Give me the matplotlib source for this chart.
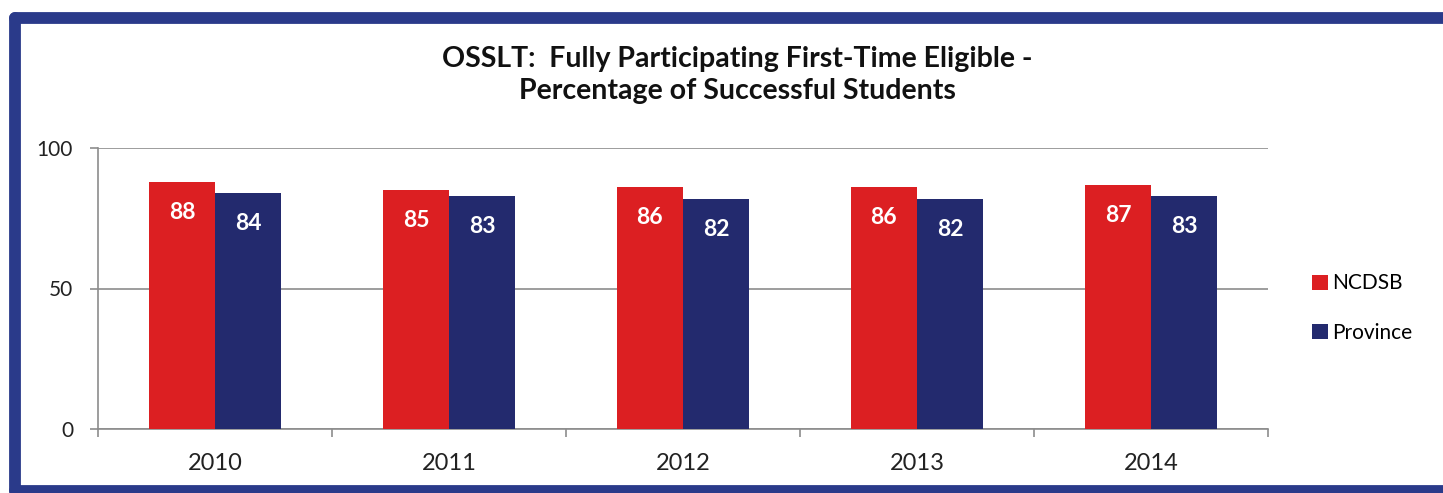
import matplotlib
matplotlib.use("Agg")
import matplotlib.pyplot as plt
from matplotlib.patches import Patch
from matplotlib.lines import Line2D
import numpy as np

years = ["2010", "2011", "2012", "2013", "2014"]
ncdsb = [88, 85, 86, 86, 87]
province = [84, 83, 82, 82, 83]
series_names = ["NCDSB", "Province"]
yticks = [0, 50, 100]
title_lines = ["OSSLT:  Fully Participating First-Time Eligible -",
               "Percentage of Successful Students"]

RED = "#DC1F22"
BLUE = "#232A6E"
FRAME = "#2A3A8A"
GRID = "#8C8C8C"

plt.rcParams['font.family'] = ['Lato', 'DejaVu Sans']

W, H = 1443, 493
fig = plt.figure(figsize=(W / 100, H / 100), dpi=100)
fig.patch.set_facecolor("white")

ax = fig.add_axes([98 / W, 1 - 429 / H, (1268 - 98) / W, (429 - 148) / H])
x = np.arange(len(years))
bw = 0.283
b1 = ax.bar(x - bw / 2, ncdsb, bw, color=RED, zorder=3)
b2 = ax.bar(x + bw / 2, province, bw, color=BLUE, zorder=3)

for bars, vals in ((b1, ncdsb), (b2, province)):
    for rect, v in zip(bars, vals):
        ax.annotate(str(v), (rect.get_x() + rect.get_width() / 2, v),
                    xytext=(0, -22), textcoords="offset points",
                    ha="center", va="center", color="white",
                    fontsize=16.5, fontweight="bold", zorder=4)

ax.set_xlim(-0.5, len(years) - 0.5)
ax.set_ylim(0, 100)
ax.set_yticks(yticks)
ax.set_yticklabels([str(t) for t in yticks], fontsize=15, color="#222222")
ax.set_xticks(x)
ax.set_xticklabels(years, fontsize=17, color="#222222")
ax.set_xticks(np.arange(-0.5, len(years)), minor=True)
ax.tick_params(axis="x", which="major", length=0, pad=17)
ax.tick_params(axis="x", which="minor", length=6, color=GRID, width=1.2)
ax.tick_params(axis="y", length=6, color=GRID, width=1.2, pad=12)
ax.yaxis.grid(True, color=GRID, linewidth=1.2, zorder=0)
ax.set_axisbelow(True)
for s in ("top", "right"):
    ax.spines[s].set_visible(False)
for s in ("left", "bottom"):
    ax.spines[s].set_color(GRID)
    ax.spines[s].set_linewidth(1.2)

for txt, yb in zip(title_lines, (67, 99)):
    fig.text(737 / W, 1 - yb / H, txt, ha="center", va="baseline",
             fontsize=20.5, fontweight="bold", color="#111111")

handles = [Patch(facecolor=RED), Patch(facecolor=BLUE)]
fig.legend(handles, series_names, loc="center left",
           bbox_to_anchor=(1302 / W, 1 - 308 / H), frameon=False,
           fontsize=15, handlelength=0.75, handleheight=0.75,
           handletextpad=0.2, labelspacing=1.4, borderpad=0)

# frame around the chart (top, left, bottom edges)
lw = 8.5
fig.add_artist(Line2D([14.5 / W, 1.0], [1 - 17.5 / H] * 2,
                      transform=fig.transFigure, color=FRAME, linewidth=lw,
                      solid_capstyle="round"))
fig.add_artist(Line2D([14.5 / W] * 2, [1 - 17.5 / H, 1 - 491 / H],
                      transform=fig.transFigure, color=FRAME, linewidth=lw,
                      solid_capstyle="round"))
fig.add_artist(Line2D([14.5 / W, 1.0], [1 - 491 / H] * 2,
                      transform=fig.transFigure, color=FRAME, linewidth=lw,
                      solid_capstyle="round"))

fig.savefig("out.png", dpi=100, facecolor="white")
